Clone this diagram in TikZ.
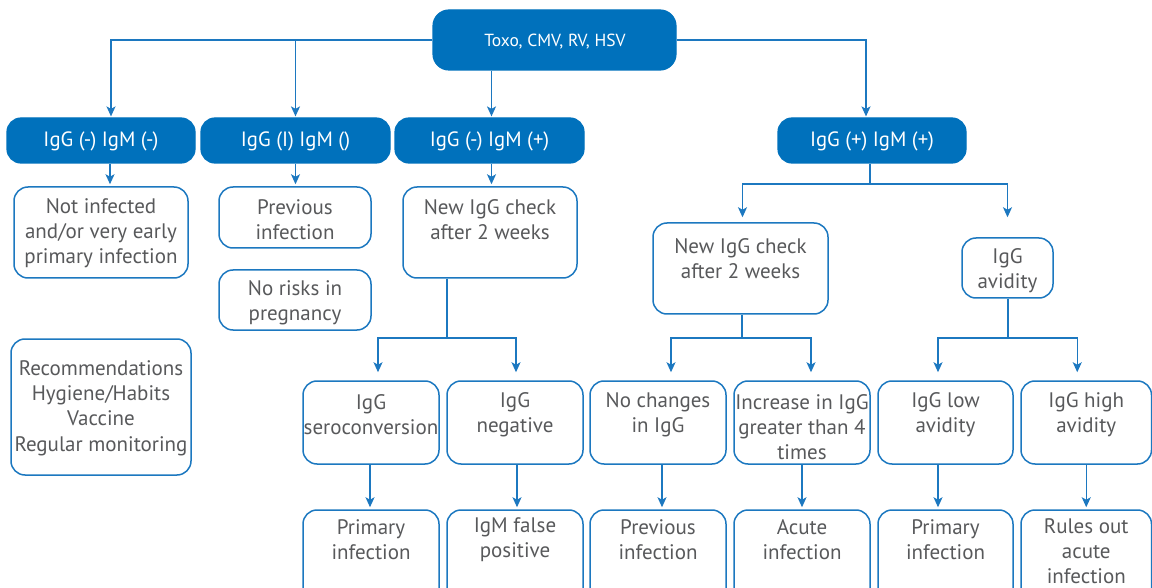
\documentclass[tikz,border=0pt]{standalone}
\usepackage{fontspec}
\setmainfont{PT Sans}
\usetikzlibrary{arrows.meta}
\definecolor{cblue}{HTML}{0071BC}
\definecolor{lblue}{HTML}{1C78C0}
\definecolor{tgray}{HTML}{58595B}
\tikzset{
  fbox/.style={draw=cblue, fill=cblue, line width=1.2pt, rounded corners=14pt, inner sep=0pt},
  obox/.style={draw=lblue, line width=1.5pt, rounded corners=14pt, inner sep=0pt},
  txt/.style={text=tgray, align=center, inner sep=0pt, font=\fontsize{21}{25.3}\selectfont},
  wtxt/.style={text=white, align=center, inner sep=0pt, font=\fontsize{20.7}{25}\selectfont},
  conn/.style={draw=lblue, line width=1.4pt},
  arr/.style={conn, -{Stealth[length=10pt,width=9pt,inset=2.5pt]}},
}
% name, x1, y1, x2, y2, text y, text
\newcommand\ob[7]{%
  \node[obox, minimum width={#4-#2}, minimum height={#5-#3}] (#1) at ({(#2+#4)/2},{(#3+#5)/2}) {};
  \node[txt] (#1t) at ({(#2+#4)/2},#6) {#7};}
\newcommand\fb[7]{%
  \node[fbox, minimum width={#4-#2}, minimum height={#5-#3}] (#1) at ({(#2+#4)/2},{(#3+#5)/2}) {};
  \node[wtxt] (#1t) at ({(#2+#4)/2},#6) {#7};}
\begin{document}
\begin{tikzpicture}[x=1pt,y=-1pt]
\clip (0,0) rectangle (1152,588);
\fill[white] (0,0) rectangle (1152,588);
% top
\node[fbox, minimum width=243, minimum height=60, rounded corners=16pt] (top) at (554.5,40) {};
\node[text=white, inner sep=0pt, font=\fontsize{17.5}{20}\selectfont] (topt) at (555,42) {Toxo, CMV, RV, HSV};
% level 2
\fb{ga}{7}{118}{195}{163}{141}{IgG (-) IgM (-)}
\fb{gb}{201}{118}{390}{163}{141}{IgG (I) IgM ()}
\fb{gc}{395}{118}{584}{163}{141}{IgG (-) IgM (+)}
\fb{gd}{778}{118}{966}{163}{141}{IgG (+) IgM (+)}
% level 3
\ob{notinf}{14}{187}{188}{278}{233}{Not infected\\and/or very early\\primary infection}
\ob{prev}{219}{187}{371}{248}{220}{Previous\\infection}
\ob{norisk}{219}{270}{371}{330}{303}{No risks in\\pregnancy}
\ob{newa}{403}{187}{577}{278}{220}{New IgG check\\after 2 weeks}
\ob{recom}{11}{339}{191}{475}{408}{Recommendations\\Hygiene/Habits\\Vaccine\\Regular monitoring}
\ob{newb}{653}{223}{828}{314}{258.5}{New IgG check\\after 2 weeks}
\ob{avid}{962}{238}{1053}{298}{270.5}{IgG\\avidity}
% level 4
\ob{sero}{303}{381}{439}{464}{414.5}{IgG\\seroconversion}
\ob{neg}{447}{381}{583}{464}{414.5}{IgG\\negative}
\ob{noch}{590}{381}{726}{464}{414.5}{No changes\\in IgG}
\ob{incr}{734}{381}{870}{464}{427}{Increase in IgG\\greater than 4\\times}
\ob{low}{878}{381}{1013}{464}{414.5}{IgG low\\avidity}
\ob{high}{1021}{381}{1151.5}{464}{414.5}{IgG high\\avidity}
% level 5
\ob{prim}{303}{510}{439}{610}{540}{Primary\\infection}
\ob{fpos}{447}{510}{583}{610}{540}{IgM false\\positive}
\ob{prevb}{590}{510}{726}{610}{540}{Previous\\infection}
\ob{acute}{734}{510}{870}{610}{540}{Acute\\infection}
\ob{primb}{878}{510}{1013}{610}{540}{Primary\\infection}
\ob{rules}{1021}{510}{1151.5}{610}{551}{Rules out\\acute\\infection}
% connectors from top
\draw[arr, shorten >=1pt] (top.west) -| ([xshift=10pt]ga.north);
\draw[arr, shorten >=1pt] (top.west -| gb.north) -- (gb.north);
\draw[arr, shorten >=1pt] ([xshift=2pt]top.south -| gc.north) -- ([xshift=2pt]gc.north);
\draw[arr, shorten >=1pt] (top.east) -| ([xshift=-6pt]gd.north);
% level 2 -> level 3
\draw[arr, shorten >=2pt] ([xshift=9pt]ga.south) -- ([xshift=9pt]ga.south |- notinf.north);
\draw[arr, shorten >=2pt] (gb.south) -- (gb.south |- prev.north);
\draw[arr, shorten >=2pt] ([xshift=2pt]gc.south) -- ([xshift=2pt]gc.south |- newa.north);
% gd branch
\coordinate (jd) at (870,184);
\draw[conn] (gd.south -| jd) -- (jd);
\draw[arr, shorten >=5pt] (jd) -| ([xshift=2pt]newb.north);
\draw[arr, shorten >=20pt] (jd) -| (avid.north);
% newa branch
\coordinate (ja) at (447,338);
\draw[conn] (newa.south -| ja) -- (ja);
\draw[arr, shorten >=8pt] (ja) -| ([xshift=7pt]sero.north);
\draw[arr, shorten >=8pt] (ja) -| ([xshift=1pt]neg.north);
% newb branch
\coordinate (jb) at (742,338);
\draw[conn] (newb.south -| jb) -- (jb);
\draw[arr, shorten >=8pt] (jb) -| ([xshift=13pt]noch.north);
\draw[arr, shorten >=8pt] (jb) -| ([xshift=9pt]incr.north);
% avidity branch
\coordinate (jc) at (1008,338);
\draw[conn] (avid.south -| jc) -- (jc);
\draw[arr, shorten >=8pt] (jc) -| ([xshift=-7.5pt]low.north);
\draw[arr, shorten >=8pt] (jc) -| ([xshift=-9pt]high.north);
% level 4 -> level 5
\draw[arr, shorten >=2pt] ([xshift=-1pt]sero.south) -- ([xshift=-1pt]prim.north);
\draw[arr, shorten >=2pt] ([xshift=2pt]neg.south) -- ([xshift=2pt]fpos.north);
\draw[arr, shorten >=2pt] ([xshift=4pt]noch.south) -- ([xshift=4pt]prevb.north);
\draw[arr, shorten >=2pt] (incr.south) -- (acute.north);
\draw[arr, shorten >=2pt] ([xshift=-7.5pt]low.south) -- ([xshift=-7.5pt]primb.north);
\draw[arr, shorten >=2pt] (high.south) -- (rules.north);
\end{tikzpicture}
\end{document}
